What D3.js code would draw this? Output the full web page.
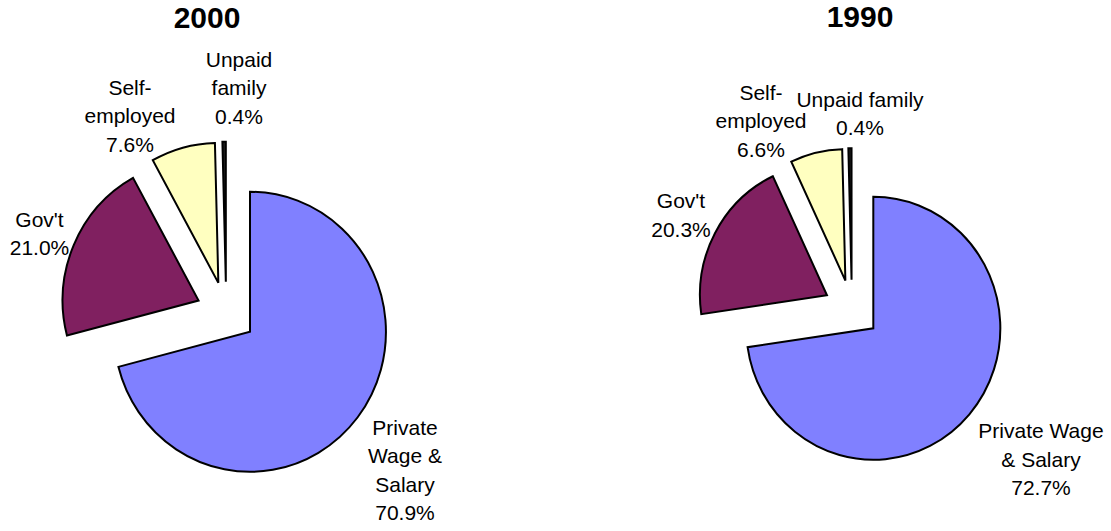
<!DOCTYPE html>
<html>
<head>
<meta charset="utf-8">
<script src="https://cdn.jsdelivr.net/npm/d3@7/dist/d3.min.js"></script>
<style>
  html, body { margin: 0; padding: 0; background: #fff; }
  svg { display: block; }
  text { font-family: "Liberation Sans", Arial, sans-serif; fill: #000; }
</style>
</head>
<body>
<svg id="chart" width="1111" height="531"></svg>
<script>
// ---- data ----
const categories = ["Private Wage & Salary", "Gov't", "Self-employed", "Unpaid family"];
const titles = ["2000", "1990"];
const values2000 = [70.9, 21.0, 7.6, 0.4];
const values1990 = [72.7, 20.3, 6.6, 0.4];
const labelNames2000 = [["Private", "Wage &", "Salary"], ["Gov't"], ["Self-", "employed"], ["Unpaid", "family"]];
const labelNames1990 = [["Private Wage", "& Salary"], ["Gov't"], ["Self-", "employed"], ["Unpaid family"]];
const colors = ["#8080FF", "#802060", "#FFFFC0", "#202020"];

// ---- layout ----
const charts = [
  { title: titles[0], values: values2000, names: labelNames2000,
    cx: 226.2, cy: 312.8, r: 140, sx: 0.971, explode: 31,
    titleX: 207, titleY: 28, lineH: 28.3,
    labelPos: [[405, 435], [39.5, 226.7], [130, 95], [239, 67]] },
  { title: titles[1], values: values1990, names: labelNames1990,
    cx: 851.9, cy: 309.1, r: 131.5, sx: 0.966, explode: 29.3,
    titleX: 860, titleY: 27, lineH: 28.3,
    labelPos: [[1041, 438.3], [681, 208.3], [761, 100], [860, 106.7]] }
];

const svg = d3.select("#chart");
const pie = d3.pie().sort(null).startAngle(0).endAngle(2 * Math.PI);

charts.forEach(c => {
  const arcs = pie(c.values);
  const arc = d3.arc().innerRadius(0).outerRadius(c.r);
  const g = svg.append("g")
    .attr("transform", `translate(${c.cx},${c.cy}) scale(${c.sx},1)`);

  g.selectAll("path")
    .data(arcs)
    .join("path")
    .attr("d", arc)
    .attr("transform", d => {
      const m = (d.startAngle + d.endAngle) / 2;
      return `translate(${c.explode * Math.sin(m)},${-c.explode * Math.cos(m)})`;
    })
    .attr("fill", (d, i) => colors[i])
    .attr("stroke", "#000")
    .attr("stroke-width", 2)
    .attr("stroke-linejoin", "miter")
    .attr("vector-effect", "non-scaling-stroke");

  svg.append("text")
    .attr("x", c.titleX)
    .attr("y", c.titleY)
    .attr("text-anchor", "middle")
    .attr("font-size", 30)
    .attr("font-weight", "bold")
    .text(c.title);

  c.values.forEach((v, i) => {
    const lines = c.names[i].concat([v.toFixed(1) + "%"]);
    const [lx, ly] = c.labelPos[i];
    const t = svg.append("text")
      .attr("text-anchor", "middle")
      .attr("font-size", 21);
    lines.forEach((ln, k) => {
      t.append("tspan").attr("x", lx).attr("y", ly + k * c.lineH).text(ln);
    });
  });
});
</script>
</body>
</html>
